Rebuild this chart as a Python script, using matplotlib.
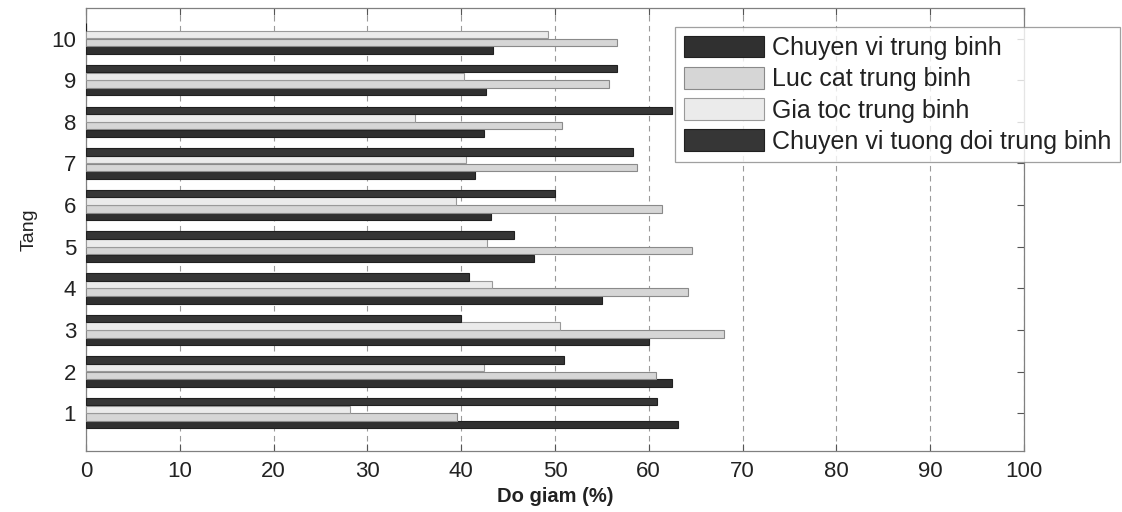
import numpy as np
import matplotlib
matplotlib.use("Agg")
import matplotlib.pyplot as plt

plt.rcParams["font.family"] = ["Liberation Sans", "DejaVu Sans"]

# tang (floors) and reduction values (%) per series, bottom-to-top inside each group
floors = [1, 2, 3, 4, 5, 6, 7, 8, 9, 10]
chuyen_vi = [63.1, 62.5, 60.0, 55.0, 47.8, 43.2, 41.5, 42.4, 42.6, 43.4]
luc_cat = [39.6, 60.8, 68.0, 64.2, 64.6, 61.4, 58.7, 50.8, 55.8, 56.6]
gia_toc = [28.2, 42.4, 50.5, 43.3, 42.8, 39.4, 40.5, 35.1, 40.3, 49.3]
chuyen_vi_td = [60.9, 51.0, 40.0, 40.8, 45.6, 50.0, 58.3, 62.5, 56.6, 0.0]

series = [
    ("Chuyen vi trung binh", chuyen_vi, "#303030", "#202020"),
    ("Luc cat trung binh", luc_cat, "#d6d6d6", "#8a8a8a"),
    ("Gia toc trung binh", gia_toc, "#ebebeb", "#9a9a9a"),
    ("Chuyen vi tuong doi trung binh", chuyen_vi_td, "#363636", "#202020"),
]

fig = plt.figure(figsize=(11.22, 5.12), dpi=100)
ax = fig.add_axes([0.0766, 0.119, 0.836, 0.865])

y = np.array(floors, dtype=float)
h = 0.18
offsets = [-1.5, -0.5, 0.5, 1.5]
handles = []
for (label, vals, fc, ec), off in zip(series, offsets):
    b = ax.barh(y + off * 0.185, vals, h, color=fc, edgecolor=ec, linewidth=0.8,
                label=label, zorder=3)
    handles.append(b)

ax.set_xlim(0, 100)
ax.set_ylim(0.09, 10.73)
ax.set_xticks(range(0, 101, 10))
ax.set_yticks(floors)
ax.tick_params(axis="both", direction="in", length=5, top=True, right=True,
               labelsize=16, colors="#555555", labelcolor="#222222", pad=7)
ax.xaxis.grid(True, linestyle=(0, (5, 4)), color="#9a9a9a", linewidth=0.8, zorder=0)
ax.set_axisbelow(True)
for sp in ax.spines.values():
    sp.set_edgecolor("#808080")
    sp.set_linewidth(0.9)

ax.set_xlabel("Do giam (%)", fontsize=14.5, fontweight="bold", color="#222222", labelpad=4)
ax.set_ylabel("Tang", fontsize=14, color="#222222", labelpad=10)

leg = fig.legend(handles=handles, loc="upper left", bbox_to_anchor=(0.602, 0.947),
                 fontsize=18, frameon=True, fancybox=False, handlelength=3.2,
                 handleheight=0.95, labelspacing=0.27, handletextpad=0.3,
                 borderpad=0.35, borderaxespad=0)
leg.get_frame().set_edgecolor("#888888")
leg.get_frame().set_linewidth(0.9)
for t in leg.get_texts():
    t.set_color("#222222")

fig.savefig("out.png", dpi=100, facecolor="white")
plt.close(fig)
